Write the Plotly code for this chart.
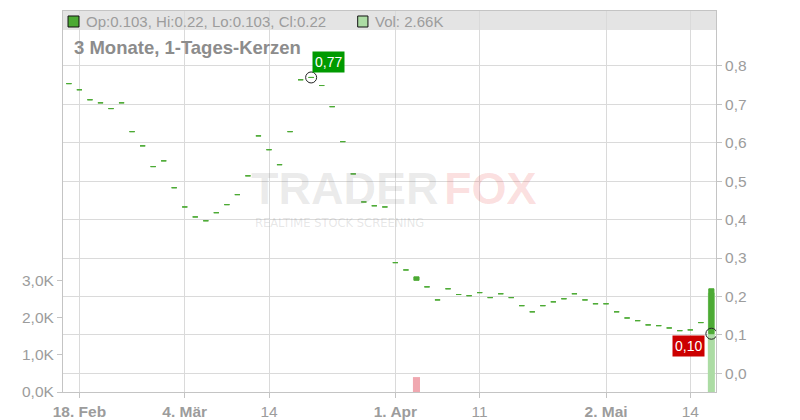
import plotly.graph_objects as go

# ---- data ----
dates = [
    "2025-02-17", "2025-02-18", "2025-02-19", "2025-02-20", "2025-02-21",
    "2025-02-24", "2025-02-25", "2025-02-26", "2025-02-27", "2025-02-28",
    "2025-03-03", "2025-03-04", "2025-03-05", "2025-03-06", "2025-03-07",
    "2025-03-10", "2025-03-11", "2025-03-12", "2025-03-13", "2025-03-14",
    "2025-03-17", "2025-03-18", "2025-03-19", "2025-03-20", "2025-03-21",
    "2025-03-24", "2025-03-25", "2025-03-26", "2025-03-27", "2025-03-28",
    "2025-03-31", "2025-04-01", "2025-04-02", "2025-04-03", "2025-04-04",
    "2025-04-07", "2025-04-08", "2025-04-09", "2025-04-10", "2025-04-11",
    "2025-04-14", "2025-04-15", "2025-04-16", "2025-04-17", "2025-04-22",
    "2025-04-23", "2025-04-24", "2025-04-25", "2025-04-28", "2025-04-29",
    "2025-04-30", "2025-05-02", "2025-05-05", "2025-05-06", "2025-05-07",
    "2025-05-08", "2025-05-09", "2025-05-12", "2025-05-13", "2025-05-14",
    "2025-05-15", "2025-05-16",
]

closes = [
    0.754, 0.738, 0.712, 0.704, 0.689, 0.704, 0.629, 0.592, 0.538, 0.553,
    0.483, 0.433, 0.407, 0.397, 0.418, 0.439, 0.465, 0.514, 0.618, 0.582,
    0.543, 0.629, 0.764, 0.770, 0.749, 0.694, 0.603, 0.519, 0.446, 0.436,
    0.433, 0.288, 0.269, 0.251, 0.225, 0.191, 0.220, 0.205, 0.202, 0.210,
    0.197, 0.207, 0.197, 0.176, 0.160, 0.176, 0.186, 0.194, 0.207, 0.191,
    0.181, 0.181, 0.160, 0.144, 0.137, 0.126, 0.124, 0.118, 0.111, 0.113,
    0.132, 0.220,
]
opens = list(closes)
opens[33] = 0.242
opens[61] = 0.103
highs = [max(o, c) for o, c in zip(opens, closes)]
lows = [min(o, c) for o, c in zip(opens, closes)]

volumes = [0] * 62
volumes[33] = 400
volumes[61] = 2660
vol_up = [c >= o for o, c in zip(opens, closes)]
vol_up[33] = False

tick_dates = ["2025-02-18", "2025-03-04", "2025-03-14", "2025-04-01",
              "2025-04-11", "2025-05-02", "2025-05-14"]
tick_labels = ["<b>18. Feb</b>", "<b>4. Mär</b>", "14", "<b>1. Apr</b>",
               "11", "<b>2. Mai</b>", "14"]

price_ticks = [0.0, 0.1, 0.2, 0.3, 0.4, 0.5, 0.6, 0.7, 0.8]
price_labels = ["0,0", "0,1", "0,2", "0,3", "0,4", "0,5", "0,6", "0,7", "0,8"]
vol_ticks = [0, 1000, 2000, 3000]
vol_labels = ["0,0K", "1,0K", "2,0K", "3,0K"]

hi_idx, hi_val, hi_text = 23, 0.77, "0,77"
lo_idx, lo_val, lo_text = 61, 0.103, "0,10"

header_text = "Op:0.103, Hi:0.22, Lo:0.103, Cl:0.22"
vol_text = "Vol: 2.66K"
title_text = "3 Monate, 1-Tages-Kerzen"

# ---- style ----
GREEN = "#4caa34"
VOL_GREEN = "#acdca4"
VOL_RED = "#f0a8b0"
GRID = "#dadada"
AXLINE = "#c4c4c4"
TXT = "#9c9c9c"
FONT = "Liberation Sans, Arial, sans-serif"

fig = go.Figure()

fig.add_trace(go.Bar(
    x=dates, y=volumes, yaxis="y",
    marker=dict(color=[VOL_GREEN if u else VOL_RED for u in vol_up], line=dict(width=0)),
    width=0.67, hoverinfo="skip", showlegend=False,
))

fig.add_trace(go.Candlestick(
    x=dates, open=opens, high=highs, low=lows, close=closes, yaxis="y2",
    increasing=dict(line=dict(color=GREEN, width=1), fillcolor=GREEN),
    decreasing=dict(line=dict(color=GREEN, width=1), fillcolor=GREEN),
    whiskerwidth=0, showlegend=False, hoverinfo="skip",
))

fig.add_trace(go.Scatter(
    x=[dates[hi_idx], dates[lo_idx]], y=[hi_val, lo_val], yaxis="y2",
    mode="markers",
    marker=dict(symbol="circle-open", size=11, color="#222222", line=dict(width=1)),
    showlegend=False, hoverinfo="skip",
))

# page body has an 8px margin, so the figure is 792x412 placed at (8, 8)
fig.update_layout(
    width=792, height=412,
    margin=dict(l=55, r=84, t=3, b=28, autoexpand=False),
    paper_bgcolor="white", plot_bgcolor="white",
    font=dict(family=FONT, color=TXT, size=15.5),
    xaxis=dict(
        type="category", range=[-0.56, 61.44], automargin=False,
        tickvals=tick_dates, ticktext=tick_labels,
        showgrid=True, gridcolor=GRID, gridwidth=1,
        showline=True, linecolor=AXLINE, linewidth=1, mirror=True,
        ticks="outside", ticklen=5, tickcolor=AXLINE,
        tickfont=dict(size=15.5, color=TXT),
        rangeslider=dict(visible=False), zeroline=False,
    ),
    yaxis=dict(
        side="left", range=[0, 10214], automargin=False,
        tickvals=vol_ticks, ticktext=vol_labels,
        showgrid=False, zeroline=False,
        showline=True, linecolor=AXLINE, linewidth=1,
        ticks="outside", ticklen=5, tickcolor=AXLINE,
        tickfont=dict(size=15.5, color=TXT),
    ),
    yaxis2=dict(
        side="right", overlaying="y", range=[-0.0487, 0.943], automargin=False,
        tickvals=price_ticks, ticktext=price_labels,
        showgrid=True, gridcolor=GRID, gridwidth=1, zeroline=False,
        showline=True, linecolor=AXLINE, linewidth=1,
        ticks="outside", ticklen=5, tickcolor=AXLINE,
        tickfont=dict(size=15.5, color=TXT),
    ),
)

shapes = [
    dict(type="rect", xref="paper", yref="paper", x0=0, x1=1, y0=0.950, y1=1,
         fillcolor="#e4e4e4", line=dict(width=0), layer="below"),
    dict(type="rect", xref="paper", yref="paper", x0=0.0077, x1=0.0245, y0=0.958, y1=0.9869,
         fillcolor=GREEN, line=dict(color="#111111", width=1), layer="above"),
    dict(type="rect", xref="paper", yref="paper", x0=0.4513, x1=0.467, y0=0.958, y1=0.9869,
         fillcolor=VOL_GREEN, line=dict(color="#111111", width=1), layer="above"),
]
fig.update_layout(shapes=shapes)

annotations = [
    dict(text=header_text, xref="paper", yref="paper", x=0.0322, y=0.9725,
         xanchor="left", yanchor="middle", showarrow=False,
         font=dict(size=15, color=TXT, family=FONT)),
    dict(text=vol_text, xref="paper", yref="paper", x=0.4748, y=0.9725,
         xanchor="left", yanchor="middle", showarrow=False,
         font=dict(size=15, color=TXT, family=FONT)),
    dict(text="<b>" + title_text + "</b>", xref="paper", yref="paper", x=0.0138, y=0.905,
         xanchor="left", yanchor="middle", showarrow=False,
         font=dict(size=18.5, color="#8c8c8c", family=FONT)),
    # watermark (translucent so the candles remain visible through it)
    dict(text="<b>TRADER</b>", xref="paper", yref="paper", x=0.432, y=0.533,
         xanchor="center", yanchor="middle", showarrow=False,
         font=dict(size=45, color="rgba(128,128,128,0.16)", family=FONT)),
    dict(text="<b>FOX</b>", xref="paper", yref="paper", x=0.654, y=0.533,
         xanchor="center", yanchor="middle", showarrow=False,
         font=dict(size=45, color="rgba(230,60,60,0.16)", family=FONT)),
    dict(text="REALTIME STOCK SCREENING", xref="paper", yref="paper", x=0.424, y=0.443,
         xanchor="center", yanchor="middle", showarrow=False,
         font=dict(size=11.5, color="rgba(128,128,128,0.2)", family="DejaVu Sans, sans-serif")),
    # high / low labels
    dict(text=hi_text, x=dates[hi_idx], y=hi_val, xref="x", yref="y2",
         xshift=17.5, yshift=15, showarrow=False,
         bgcolor="#009a00", borderpad=2, font=dict(size=14, color="white", family=FONT)),
    dict(text=lo_text, x=dates[lo_idx], y=lo_val, xref="x", yref="y2",
         xshift=-22.7, yshift=-12.4, showarrow=False,
         bgcolor="#cc0000", borderpad=2, font=dict(size=14, color="white", family=FONT)),
]
fig.update_layout(annotations=annotations)

fig.write_html("out.html")
